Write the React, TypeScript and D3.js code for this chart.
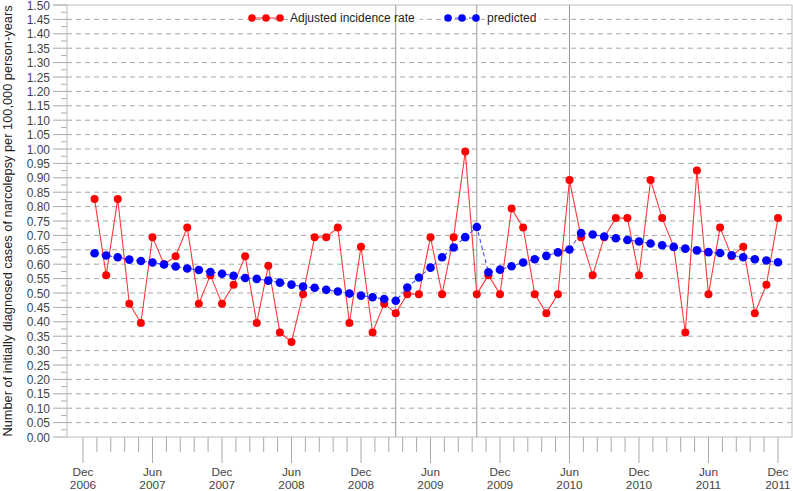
import * as d3 from "d3";

// monthly values, Jan 2007 .. Dec 2011
const startYear = 2007;
const adjustedRate = [
  0.826, 0.562, 0.826, 0.463, 0.396, 0.694, 0.600, 0.628, 0.727, 0.463, 0.562, 0.463,
  0.529, 0.628, 0.396, 0.595, 0.363, 0.330, 0.496, 0.694, 0.694, 0.727, 0.396, 0.661,
  0.363, 0.463, 0.430, 0.496, 0.496, 0.694, 0.496, 0.694, 0.991, 0.496, 0.562, 0.496,
  0.793, 0.727, 0.496, 0.430, 0.496, 0.892, 0.694, 0.562, 0.694, 0.760, 0.760, 0.562,
  0.892, 0.760, 0.661, 0.363, 0.925, 0.496, 0.727, 0.628, 0.661, 0.430, 0.529, 0.760,
];
const predicted = [
  0.638, 0.630, 0.624, 0.616, 0.611, 0.606, 0.599, 0.592, 0.585, 0.580, 0.573, 0.567,
  0.560, 0.552, 0.549, 0.543, 0.536, 0.529, 0.522, 0.518, 0.511, 0.505, 0.498, 0.491,
  0.485, 0.479, 0.473, 0.519, 0.554, 0.588, 0.624, 0.658, 0.694, 0.729, 0.572, 0.581,
  0.593, 0.606, 0.617, 0.629, 0.641, 0.651, 0.708, 0.703, 0.696, 0.690, 0.684, 0.679,
  0.672, 0.666, 0.660, 0.654, 0.648, 0.642, 0.639, 0.631, 0.624, 0.617, 0.613, 0.607,
];
// month offsets from Dec 2006
const majorTicks = [0, 6, 12, 18, 24, 30, 36, 42, 48, 54, 60];
const tickMonths = ["Dec", "Jun"];
const refLines = [27, 34, 42]; // Mar 2009, Oct 2009, Jun 2010

const W = 793;
const H = 491;
const font = "'Liberation Sans', Arial, sans-serif";

const x = d3.scaleLinear().domain([-1.38, 61.21]).range([67, 792]);
const y = d3.scaleLinear().domain([0, 1.5]).range([437, 5]);

const yMajor = d3.range(0, 31).map((i) => i * 0.05);
const yMinor = d3.range(0, 30).map((i) => i * 0.05 + 0.025);
const xMinor = d3.range(0, 51).filter((k) => k % 5 !== 0).map((k) => k * 1.2);

const tickLabel = (m: number) => {
  const idx = Math.round(m / 6) % 2;
  const year = startYear - 1 + Math.floor((m + 11) / 12);
  return [tickMonths[idx], String(year)];
};

export default function App() {
  const redPts = adjustedRate.map((v, i) => ({ m: i + 1, v }));
  const bluePts = predicted.map((v, i) => ({ m: i + 1, v }));
  const line = d3
    .line<{ m: number; v: number }>()
    .x((d) => x(d.m))
    .y((d) => y(d.v));
  const legY = 18;

  return (
    <svg
      width={W}
      height={H}
      style={{ position: "absolute", left: 0, top: 0, background: "#fff" }}
      fontFamily={font}
    >
      {/* gridlines */}
      {yMajor.slice(1, -1).map((v) => (
        <line key={"g" + v} x1={x.range()[0]} x2={x.range()[1]} y1={y(v)} y2={y(v)}
          stroke="#a6a6a6" strokeDasharray="5,4" />
      ))}
      {/* y ticks */}
      {yMajor.map((v) => (
        <g key={"yt" + v}>
          <line x1={53} x2={67} y1={y(v)} y2={y(v)} stroke="#aaa" />
          <text x={50} y={y(v)} dy="0.38em" textAnchor="end" fontSize={12} fill="#444">
            {v.toFixed(2)}
          </text>
        </g>
      ))}
      {yMinor.map((v) => (
        <line key={"ym" + v} x1={61} x2={67} y1={y(v)} y2={y(v)} stroke="#aaa" />
      ))}
      {/* x ticks */}
      {majorTicks.map((m) => {
        const [mon, yr] = tickLabel(m);
        return (
          <g key={"xt" + m}>
            <line x1={x(m)} x2={x(m)} y1={437} y2={463} stroke="#aaa" />
            <text x={x(m)} y={476} textAnchor="middle" fontSize={11.8} fill="#444">{mon}</text>
            <text x={x(m)} y={488.5} textAnchor="middle" fontSize={11.8} fill="#444">{yr}</text>
          </g>
        );
      })}
      {xMinor.map((m) => (
        <line key={"xm" + m} x1={x(m)} x2={x(m)} y1={437} y2={452} stroke="#aaa" />
      ))}
      {/* plot frame */}
      <rect x={67} y={5} width={725} height={432} fill="none" stroke="#bbb" />
      <line x1={53} x2={67} y1={5} y2={5} stroke="#bbb" />

      {/* legend backgrounds */}
      <rect x={288} y={legY - 7} width={132} height={14} fill="#fff" />
      <rect x={485} y={legY - 7} width={54} height={14} fill="#fff" />

      {/* reference lines */}
      {refLines.map((m) => (
        <line key={"r" + m} x1={x(m)} x2={x(m)} y1={5} y2={437} stroke="#999" />
      ))}

      {/* legend */}
      <g>
        <line x1={252} x2={280} y1={legY} y2={legY} stroke="#ff3333" />
        {[252, 266, 280].map((cx) => (
          <circle key={"lr" + cx} cx={cx} cy={legY} r={3.8} fill="#ff0000" />
        ))}
        <text x={290} y={legY} dy="0.35em" fontSize={12} fill="#222">Adjusted incidence rate</text>
        <line x1={448} x2={476} y1={legY} y2={legY} stroke="#4444ff" strokeDasharray="4,3" />
        {[448, 462, 476].map((cx) => (
          <circle key={"lb" + cx} cx={cx} cy={legY} r={3.8} fill="#0000ff" />
        ))}
        <text x={487} y={legY} dy="0.35em" fontSize={12} fill="#222">predicted</text>
      </g>

      {/* series */}
      <path d={line(redPts) ?? ""} fill="none" stroke="#ff3a3a" strokeWidth={1.1} />
      {redPts.map((d) => (
        <circle key={"r" + d.m} cx={x(d.m)} cy={y(d.v)} r={4} fill="#ff0000" />
      ))}
      <path d={line(bluePts) ?? ""} fill="none" stroke="#4a4aff" strokeWidth={1.1}
        strokeDasharray="4,3" />
      {bluePts.map((d) => (
        <circle key={"b" + d.m} cx={x(d.m)} cy={y(d.v)} r={4.3} fill="#0000ff" />
      ))}

      {/* y axis title */}
      <text
        transform={`translate(8,${y(0.75)}) rotate(-90)`}
        textAnchor="middle"
        dy="0.35em"
        fontSize={12.8}
        fill="#222"
      >
        Number of initially diagnosed cases of narcolepsy per 100,000 person-years
      </text>
    </svg>
  );
}
